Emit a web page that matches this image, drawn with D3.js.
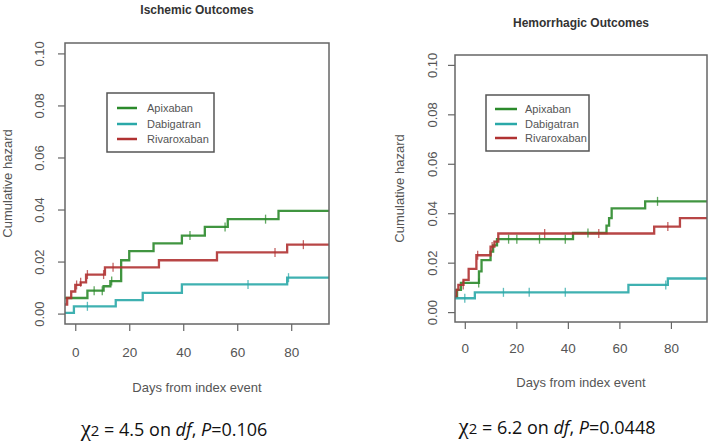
<!DOCTYPE html>
<html>
<head>
<meta charset="utf-8">
<script src="https://cdn.jsdelivr.net/npm/d3@7"></script>
<style>
  html, body { margin: 0; padding: 0; background: #fff; }
  svg { display: block; }
</style>
</head>
<body>
<svg id="chart" width="709" height="444"></svg>
<script>
// ---------------- DATA ----------------
const seriesNames = ["Apixaban", "Dabigatran", "Rivaroxaban"];
const xTicks = [0, 20, 40, 60, 80];
const yTicks = [0.00, 0.02, 0.04, 0.06, 0.08, 0.10];
const yTickLabels = ["0.00", "0.02", "0.04", "0.06", "0.08", "0.10"];

// Ischemic outcomes: step points [day, cumulative hazard]
const ischApixaban = [[-4, 0.006], [4.5, 0.0088], [10.5, 0.0105], [13, 0.0125], [17, 0.0205], [20, 0.024], [29, 0.027], [39.5, 0.030], [48, 0.0333], [56.5, 0.0363], [75.3, 0.0395]];
const ischDabigatran = [[-4, 0.0003], [-0.5, 0.0028], [15, 0.0052], [25, 0.008], [39.5, 0.0112], [78.5, 0.0138]];
const ischRivaroxaban = [[-4, 0.0035], [-3, 0.006], [-1.5, 0.0085], [0, 0.011], [2, 0.012], [4, 0.015], [11, 0.0178], [31, 0.0205], [52.5, 0.0235], [78.5, 0.0265]];
const ischApixabanCens = [7, 10, 13.5, 42.5, 55.5, 70.5];
const ischDabigatranCens = [4.5, 64, 79];
const ischRivaroxabanCens = [0.5, 2, 4.5, 10.5, 14, 74, 84.5];

// Hemorrhagic outcomes
const hemApixaban = [[-4, 0.0062], [-3, 0.009], [-1.5, 0.0118], [5.5, 0.0165], [6.5, 0.021], [10, 0.0245], [11, 0.027], [12.5, 0.0295], [42, 0.032], [55, 0.035], [56, 0.038], [57, 0.042], [70, 0.0448]];
const hemDabigatran = [[-4, 0.0056], [3.9, 0.008], [63.5, 0.011], [78.8, 0.0136]];
const hemRivaroxaban = [[-4, 0.0065], [-3.3, 0.009], [-2.5, 0.011], [-0.5, 0.013], [1.5, 0.0175], [4.5, 0.023], [10, 0.0265], [11.5, 0.0285], [13, 0.0318], [73.5, 0.0346], [83.5, 0.038]];
const hemApixabanCens = [5.4, 17, 20.2, 29, 39, 47.8, 74.8];
const hemDabigatranCens = [0, 15, 25, 39, 78];
const hemRivaroxabanCens = [-0.6, 5, 10.6, 31, 52, 78.8];

const titles = ["Ischemic Outcomes", "Hemorrhagic Outcomes"];
const statTexts = [["4.5", "0.106"], ["6.2", "0.0448"]];
const xTitle = "Days from index event";
const yTitle = "Cumulative hazard";

// ---------------- STYLE / LAYOUT ----------------
const colors = ["#2b8a2b", "#2aa8a8", "#b03232"];
const axisGrey = "#555";
const xDomain = [-3.8, 94];
const yDomain = [-0.004, 0.104];

const panels = [
  { box: [65, 43, 329, 324], title: titles[0], titleY: 14,
    series: [ischApixaban, ischDabigatran, ischRivaroxaban],
    cens: [ischApixabanCens, ischDabigatranCens, ischRivaroxabanCens],
    ytX: 39, yTitleX: 8, xtY: 357, xTitleY: 392,
    legend: [107, 93, 214, 152], legRows: [108, 124, 139], legLine: [117, 137], legText: 147,
    stat: statTexts[0], statX: 174, statY: 436 },
  { box: [455, 55, 707, 322], title: titles[1], titleY: 27,
    series: [hemApixaban, hemDabigatran, hemRivaroxaban],
    cens: [hemApixabanCens, hemDabigatranCens, hemRivaroxabanCens],
    ytX: 432, yTitleX: 400, xtY: 353, xTitleY: 387,
    legend: [486, 95, 589, 151], legRows: [109, 124, 138], legLine: [495, 517], legText: 525,
    stat: statTexts[1], statX: 557, statY: 434 }
];

const svg = d3.select("#chart");
const font = "'Liberation Sans', Arial, sans-serif";

panels.forEach(p => {
  const [x0, y0, x1, y1] = p.box;
  const x = d3.scaleLinear().domain(xDomain).range([x0, x1]);
  const y = d3.scaleLinear().domain(yDomain).range([y1, y0]);
  const g = svg.append("g");

  // title
  g.append("text").attr("x", (x0 + x1) / 2).attr("y", p.titleY)
    .attr("text-anchor", "middle").attr("font-family", font)
    .attr("font-weight", "bold").attr("font-size", 12).attr("fill", "#333")
    .text(p.title);

  // clip
  const cid = "clip" + x0;
  svg.append("clipPath").attr("id", cid).append("rect")
    .attr("x", x0).attr("y", y0).attr("width", x1 - x0).attr("height", y1 - y0);

  // series
  const line = d3.line().x(d => x(d[0])).y(d => y(d[1])).curve(d3.curveStepAfter);
  const lg = g.append("g").attr("clip-path", `url(#${cid})`);
  p.series.forEach((s, i) => {
    const pts = s.concat([[xDomain[1], s[s.length - 1][1]]]);
    lg.append("path").attr("d", line(pts)).attr("fill", "none")
      .attr("stroke", colors[i]).attr("stroke-width", 2.3).attr("opacity", 0.9);
  });
  // censor marks
  p.series.forEach((s, i) => {
    const stepVal = t => { let v = s[0][1]; s.forEach(d => { if (d[0] <= t) v = d[1]; }); return v; };
    p.cens[i].forEach(t => {
      const cx = x(t), cy = y(stepVal(t));
      lg.append("line").attr("x1", cx).attr("x2", cx).attr("y1", cy - 4.5).attr("y2", cy + 4.5)
        .attr("stroke", colors[i]).attr("stroke-width", 1.3).attr("opacity", 0.75);
    });
  });

  // box
  g.append("rect").attr("x", x0).attr("y", y0).attr("width", x1 - x0).attr("height", y1 - y0)
    .attr("fill", "none").attr("stroke", "#666").attr("stroke-width", 1.5);

  // x axis
  const xa = g.append("g").attr("transform", `translate(0,${y1})`)
    .call(d3.axisBottom(x).tickValues(xTicks).tickSize(7).tickFormat(d3.format("d")));
  xa.select(".domain").remove();
  xa.selectAll("line").attr("stroke", "#666").attr("stroke-width", 1.2);
  xa.selectAll("text").attr("font-family", font).attr("font-size", 13.5).attr("fill", axisGrey)
    .attr("dy", null).attr("y", p.xtY - y1);

  // y axis
  const ya = g.append("g").attr("transform", `translate(${x0},0)`)
    .call(d3.axisLeft(y).tickValues(yTicks).tickSize(7).tickFormat((d, i) => yTickLabels[i]));
  ya.select(".domain").remove();
  ya.selectAll("line").attr("stroke", "#666").attr("stroke-width", 1.2);
  ya.selectAll("text").attr("font-family", font).attr("font-size", 13).attr("fill", axisGrey)
    .attr("dy", null).attr("text-anchor", "middle")
    .attr("transform", `translate(${p.ytX - x0 + 5},0) rotate(-90)`)
    .attr("x", 0).attr("y", 0);

  // axis titles
  g.append("text").attr("x", (x0 + x1) / 2).attr("y", p.xTitleY).attr("text-anchor", "middle")
    .attr("font-family", font).attr("font-size", 13).attr("fill", axisGrey).text(xTitle);
  g.append("text").attr("transform", `translate(${p.yTitleX + 4},${(y0 + y1) / 2}) rotate(-90)`)
    .attr("text-anchor", "middle").attr("font-family", font).attr("font-size", 13)
    .attr("fill", axisGrey).text(yTitle);

  // legend
  const [lx0, ly0, lx1, ly1] = p.legend;
  g.append("rect").attr("x", lx0).attr("y", ly0).attr("width", lx1 - lx0).attr("height", ly1 - ly0)
    .attr("fill", "#fff").attr("stroke", "#555").attr("stroke-width", 1.5);
  seriesNames.forEach((n, i) => {
    const ry = p.legRows[i];
    g.append("line").attr("x1", p.legLine[0]).attr("x2", p.legLine[1]).attr("y1", ry).attr("y2", ry)
      .attr("stroke", colors[i]).attr("stroke-width", 2.5);
    g.append("text").attr("x", p.legText).attr("y", ry + 4).attr("font-family", font)
      .attr("font-size", 11).attr("fill", axisGrey).text(n);
  });

  // statistic text
  const st = g.append("text").attr("x", p.statX).attr("y", p.statY).attr("text-anchor", "middle")
    .attr("font-family", "'Open Sans', 'Liberation Sans', sans-serif").attr("font-size", 18).attr("fill", "#111");
  st.append("tspan").attr("font-size", 23).attr("font-family", "'Liberation Serif', serif").text("χ");
  st.append("tspan").attr("font-size", 15).text("2");
  st.append("tspan").text(` = ${p.stat[0]} on `);
  st.append("tspan").attr("font-style", "italic").text("df");
  st.append("tspan").text(", ");
  st.append("tspan").attr("font-style", "italic").text("P");
  st.append("tspan").text(`=${p.stat[1]}`);
});
</script>
</body>
</html>
